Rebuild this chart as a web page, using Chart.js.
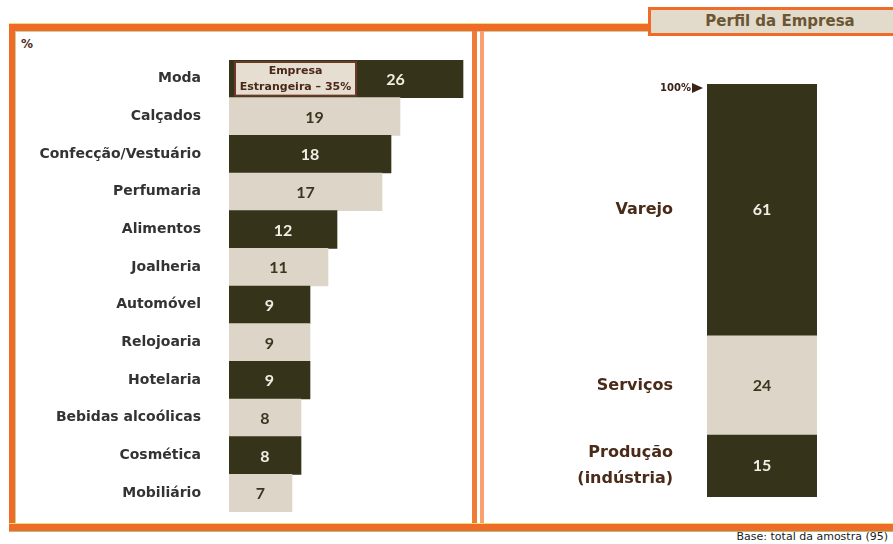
<!DOCTYPE html>
<html><head><meta charset="utf-8">
<script src="https://cdn.jsdelivr.net/npm/chart.js@4/dist/chart.umd.min.js"></script>
<style>
html,body{margin:0;padding:0;background:#fff;}
body{width:893px;height:544px;position:relative;overflow:hidden;font-family:"DejaVu Sans",sans-serif;}
.bar{position:absolute;}
#c1{position:absolute;left:16px;top:32px;}
#c2{position:absolute;left:485px;top:32px;}
#title{position:absolute;left:648px;top:7px;width:260px;height:23px;border:3px solid #f06a28;background:#e2dbcc;
 color:#6b5532;font:bold 15px "DejaVu Sans",sans-serif;line-height:23px;box-sizing:content-box;}
#title span{position:absolute;left:0;width:258px;text-align:center;top:0;}
#foot{position:absolute;right:5px;top:530px;font:11px "DejaVu Sans",sans-serif;color:#222;}
#pct{position:absolute;left:21px;top:37px;font:bold 12px "DejaVu Sans",sans-serif;color:#4a2a18;}
</style></head>
<body>
<div class="bar" style="left:9px;top:23px;width:639px;height:1px;background:#e8e070"></div>
<div class="bar" style="left:9px;top:24px;width:639px;height:7px;background:#f06a28"></div>
<div class="bar" style="left:9px;top:31px;width:639px;height:1px;background:#c8d098"></div>
<div class="bar" style="left:9px;top:24px;width:6px;height:507px;background:#f06a28"></div>
<div class="bar" style="left:15px;top:31px;width:1px;height:493px;background:#c8d098"></div>
<div class="bar" style="left:472px;top:31px;width:5px;height:493px;background:#f07a38"></div>
<div class="bar" style="left:480px;top:31px;width:4px;height:493px;background:#f8a070"></div>
<div class="bar" style="left:9px;top:523px;width:884px;height:1px;background:#e8e070"></div>
<div class="bar" style="left:9px;top:524px;width:884px;height:7px;background:#f06a28"></div>
<div class="bar" style="left:9px;top:531px;width:884px;height:1px;background:#a8c080"></div>
<div id="title"><span>Perfil da Empresa</span></div>
<div id="pct">%</div>
<div id="foot">Base: total da amostra (95)</div>
<canvas id="c1" width="456" height="492"></canvas>
<canvas id="c2" width="408" height="492"></canvas>
<script>
// ---- data ----
const sectors = ['Moda','Calçados','Confecção/Vestuário','Perfumaria','Alimentos','Joalheria','Automóvel','Relojoaria','Hotelaria','Bebidas alcoólicas','Cosmética','Mobiliário'];
const sectorValues = [26,19,18,17,12,11,9,9,9,8,8,7];
const foreignNote = ['Empresa','Estrangeira – 35%'];
const profileLabels = [['Produção','(indústria)'],['Serviços'],['Varejo']];
const profileValues = [15,24,61];
const topMarker = '100%';

const DARK = '#35341a', LIGHT = '#ddd6c8';
const FONT = '"DejaVu Sans", sans-serif';
const NUMFONT = 'Lato, "DejaVu Sans", sans-serif';

const sectorColors = sectors.map((_,i)=> i%2===0 ? DARK : LIGHT);

const leftPlugin = {
  id:'leftVals',
  afterDatasetsDraw(chart){
    const ctx = chart.ctx;
    const meta = chart.getDatasetMeta(0);
    ctx.save();
    ctx.textBaseline='middle';
    meta.data.forEach((bar,i)=>{
      const p = bar.getProps(['x','y','base','height'],true);
      let cx = (p.x + p.base)/2;
      if(i===0){
        const bx = p.base+6, bw = 121, by = p.y - p.height/2 + 2, bh = p.height - 4;
        ctx.fillStyle = '#e6dfd1';
        ctx.fillRect(bx,by,bw,bh);
        ctx.strokeStyle = '#6a3a28'; ctx.lineWidth = 2;
        ctx.strokeRect(bx,by,bw,bh);
        ctx.fillStyle = '#4a2818';
        ctx.textAlign='center';
        ctx.font = 'bold 11px '+FONT;
        ctx.fillText(foreignNote[0], bx+bw/2, p.y-8);
        ctx.fillText(foreignNote[1], bx+bw/2, p.y+8);
        cx = (bx+bw+p.x)/2 - 14;
      }
      ctx.textAlign='center';
      ctx.font = 'bold 16px '+NUMFONT;
      ctx.fillStyle = i%2===0 ? '#f2eee4' : '#3a3620';
      ctx.fillText(String(sectorValues[i]), cx, p.y+1);
    });
    ctx.restore();
  }
};

new Chart(document.getElementById('c1'),{
  type:'bar',
  data:{labels:sectors,datasets:[{data:sectorValues,backgroundColor:sectorColors,barPercentage:1,categoryPercentage:1,borderWidth:0}]},
  options:{
    indexAxis:'y',responsive:false,animation:false,
    layout:{padding:{top:28,bottom:12,left:0,right:0}},
    plugins:{legend:{display:false},tooltip:{enabled:false}},
    scales:{
      x:{display:false,min:0,max:27},
      y:{grid:{display:false,drawTicks:false},border:{display:false},
         ticks:{color:'#333',font:{family:FONT,weight:'bold',size:14},padding:28},
         afterFit(s){s.width=213; s.paddingTop=0; s.paddingBottom=0;}}
    }
  },
  plugins:[leftPlugin]
});

const rightPlugin = {
  id:'rightVals',
  afterDatasetsDraw(chart){
    const ctx = chart.ctx;
    ctx.save();
    ctx.textBaseline='middle';
    chart.data.datasets.forEach((ds,di)=>{
      const bar = chart.getDatasetMeta(di).data[0];
      const p = bar.getProps(['x','y','base','width'],true);
      const cy = (p.y+p.base)/2;
      ctx.textAlign='center';
      ctx.font='bold 16px '+NUMFONT;
      ctx.fillStyle = di%2===0 ? '#f2eee4' : '#3a3620';
      ctx.fillText(String(profileValues[di]), p.x, cy);
      ctx.textAlign='right';
      ctx.font='bold 16px '+FONT;
      ctx.fillStyle='#4a2a18';
      const lines = profileLabels[di];
      const lh = 26;
      lines.forEach((t,k)=>{
        ctx.fillText(t, p.x - p.width/2 - 34, cy + (k-(lines.length-1)/2)*lh);
      });
    });
    // 100% marker
    const ys = chart.scales.y;
    const top = ys.getPixelForValue(100);
    const left = chart.chartArea.left;
    ctx.fillStyle='#3a2418';
    ctx.beginPath();
    ctx.moveTo(left-15, top-1); ctx.lineTo(left-4, top+4); ctx.lineTo(left-15, top+9); ctx.closePath(); ctx.fill();
    ctx.font='bold 10px '+FONT; ctx.textAlign='right';
    ctx.fillText(topMarker, left-16, top+4);
    ctx.restore();
  }
};

new Chart(document.getElementById('c2'),{
  type:'bar',
  data:{labels:[''],datasets:profileValues.map((v,i)=>({label:profileLabels[i].join(' '),data:[v],backgroundColor:i%2===0?DARK:LIGHT,barPercentage:1,categoryPercentage:1,borderWidth:0}))},
  options:{
    responsive:false,animation:false,
    layout:{padding:{top:52,bottom:27,left:222,right:76}},
    plugins:{legend:{display:false},tooltip:{enabled:false}},
    scales:{
      x:{display:false,stacked:true},
      y:{display:false,stacked:true,min:0,max:100}
    }
  },
  plugins:[rightPlugin]
});
</script>
</body></html>
